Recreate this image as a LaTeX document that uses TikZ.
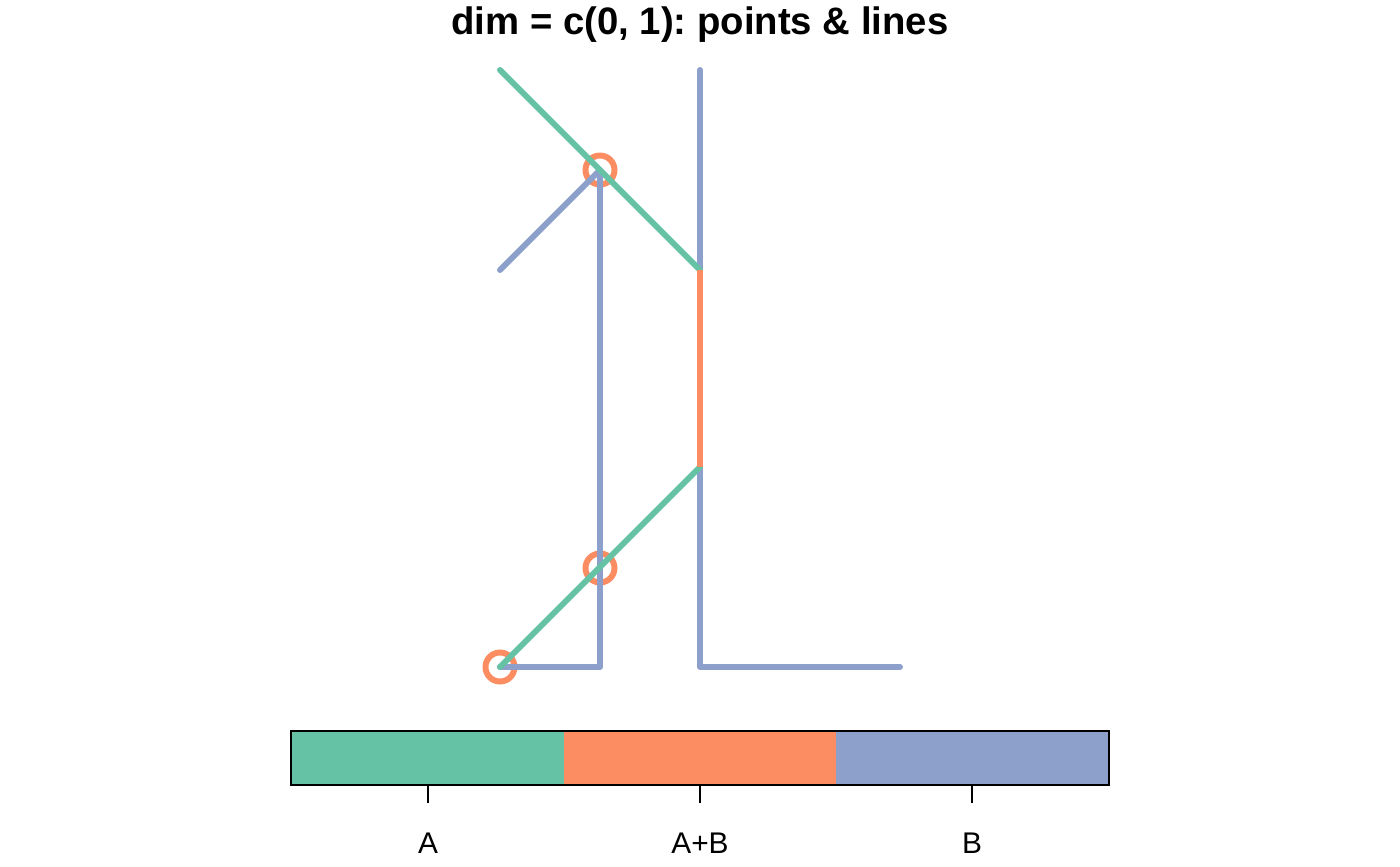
\documentclass[tikz,border=0pt]{standalone}
\usepackage{fontspec}
\setmainfont{Liberation Sans}
\usetikzlibrary{positioning}
\definecolor{setA}{HTML}{66C2A5}
\definecolor{setAB}{HTML}{FC8D62}
\definecolor{setB}{HTML}{8DA0CB}
\frenchspacing

\begin{document}
\begin{tikzpicture}[x=0.02cm, y=-0.02cm,
    seg/.style={line width=3.4pt, line cap=round, line join=round},
    pt/.style={circle, draw=setAB, line width=3.4pt, minimum size=0.58cm, inner sep=0pt},
    tick/.style={line width=0.8pt},
    lab/.style={font=\fontsize{17}{20}\selectfont, inner sep=0pt}]
    \useasboundingbox (0,0) rectangle (1400,866);

    % Title
    \node[font=\fontsize{21.8}{26}\selectfont\bfseries] (title) at (700,25) {dim = c(0, 1): points \& lines};

    % Points
    \node[pt] (p1) at (600,170) {};
    \node[pt] (p2) at (600,568) {};
    \node[pt] (p3) at (500,667) {};

    % Lines of B
    \draw[seg, setB] (500,270) -- (p1.center) -- (600,667) -- (p3.center);
    \draw[seg, setB] (700,70) -- (700,270);
    \draw[seg, setB] (700,467) -- (700,667) -- (900,667);

    % Lines of A
    \draw[seg, setA] (500,70) -- (700,270);
    \draw[seg, setA] (p3.center) -- (700,467);

    % Line of A+B
    \draw[seg, setAB, line cap=butt] (700,270) -- (700,467);

    % Legend bar
    \fill[setA] (291,731) rectangle (564,785);
    \fill[setAB] (564,731) rectangle (836,785);
    \fill[setB] (836,731) rectangle (1109,785);
    \draw[line width=0.9pt] (291,731) rectangle (1109,785);

    % Ticks and labels
    \foreach \x/\t/\n in {428/A/labA, 700/A+B/labAB, 972/B/labB} {
        \draw[tick] (\x,785) -- (\x,803);
        \node[lab] (\n) at (\x,843) {\t};
    }
\end{tikzpicture}
\end{document}
